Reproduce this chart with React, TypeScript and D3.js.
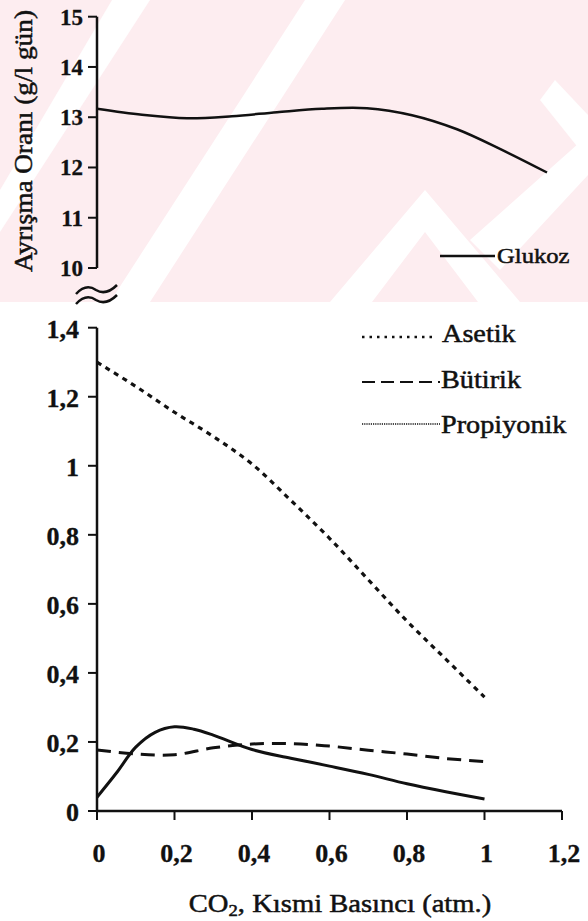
import React from 'react';
import * as d3 from 'd3';

// CO2 partial pressure (atm) for each series
const pressure = [0, 0.1, 0.2, 0.3, 0.4, 0.5, 0.6, 0.7, 0.8, 0.9, 1.0];
const glukoz = [13.17, 13.05, 12.98, 13.02, 13.1, 13.17, 13.18, 13.04, 12.76, 12.35, 11.9];
const asetik = [1.3, 1.23, 1.155, 1.085, 1.005, 0.9, 0.79, 0.67, 0.55, 0.44, 0.33];
const butirik = [0.177, 0.165, 0.163, 0.183, 0.194, 0.195, 0.188, 0.176, 0.165, 0.152, 0.143];
const propPressure = [0, 0.05, 0.1, 0.15, 0.2, 0.25, 0.3, 0.4, 0.5, 0.6, 0.7, 0.8, 0.9, 1.0];
const propiyonik = [0.04, 0.11, 0.185, 0.228, 0.244, 0.237, 0.22, 0.178, 0.153, 0.13, 0.106, 0.079, 0.056, 0.035];

const topTicks = [10, 11, 12, 13, 14, 15];
const bottomTicks = [0, 0.2, 0.4, 0.6, 0.8, 1, 1.2, 1.4];
const xTicks = [0, 0.2, 0.4, 0.6, 0.8, 1, 1.2];

const legendTop = ['Glukoz'];
const legendBottom = ['Asetik', 'Bütirik', 'Propiyonik'];

const FONT = '"Liberation Serif", "Times New Roman", serif';
const fmt = (d: number) => String(+d.toFixed(1)).replace('.', ',');

// scanned text looks heavier, so give it a thin outline
const Txt = ({ x, y, size, sx = 1, anchor = 'start', weight = 'normal', rotate = 0, children }: any) => (
  <text
    transform={`translate(${x},${y}) rotate(${rotate}) scale(${sx},1)`}
    fontFamily={FONT}
    fontSize={size}
    fontWeight={weight}
    textAnchor={anchor}
    fill="#111"
    stroke="#111"
    strokeWidth={weight === 'bold' ? 0.3 : 0.5}
  >
    {children}
  </text>
);

const App = () => {
  const W = 588;
  const H = 921;
  const axisX = 97;

  // top panel (Glukoz)
  const xTop = d3.scaleLinear().domain([0, 1]).range([axisX, 547]);
  const yTop = d3.scaleLinear().domain([10, 15]).range([268, 16.7]);

  // bottom panel (acids)
  const x = d3.scaleLinear().domain([0, 1.2]).range([axisX, 562]);
  const y = d3.scaleLinear().domain([0, 1.4]).range([811, 327.7]);

  const topLine = d3.line<number>()
    .x((_, i) => xTop(pressure[i]))
    .y(d => yTop(d))
    .curve(d3.curveCatmullRom);

  const line = d3.line<number>()
    .x((_, i) => x(pressure[i]))
    .y(d => y(d))
    .curve(d3.curveCatmullRom);

  const propLine = d3.line<number>()
    .x((_, i) => x(propPressure[i]))
    .y(d => y(d))
    .curve(d3.curveCatmullRom);

  const wave = (yy: number) =>
    `M76,${yy + 4} Q86,${yy - 7} 96,${yy} Q106,${yy + 6} 117,${yy - 5}`;

  return (
    <svg width={W} height={H} style={{ position: 'absolute', left: 0, top: 0, background: '#fff' }}>
      {/* faint watermark behind the upper panel */}
      <rect x={0} y={0} width={W} height={302} fill="#fdedf0" />
      <g fill="#fff">
        <polygon points="0,190 0,232 150,0 112,0" />
        <polygon points="110,302 150,302 345,0 305,0" />
        <polygon points="330,302 372,302 425,232 478,302 520,302 425,190" />
        <polygon points="470,240 500,270 588,175 588,135" />
        <polygon points="540,100 588,160 588,115 555,80" />
      </g>

      {/* top axis */}
      <line x1={axisX} x2={axisX} y1={yTop(15)} y2={yTop(10)} stroke="#111" strokeWidth={2.5} />
      {topTicks.map(t => (
        <g key={t}>
          <line x1={axisX - 9} x2={axisX} y1={yTop(t)} y2={yTop(t)} stroke="#111" strokeWidth={2} />
          <Txt x={83} y={yTop(t) + 8} size={23} anchor="end" weight="bold">{t}</Txt>
        </g>
      ))}
      <path d={topLine(glukoz) || ''} fill="none" stroke="#111" strokeWidth={2.5} />

      {/* axis break */}
      <path d={wave(290)} fill="none" stroke="#111" strokeWidth={2.5} />
      <path d={wave(300)} fill="none" stroke="#111" strokeWidth={2.5} />

      {/* bottom axes */}
      <line x1={axisX} x2={axisX} y1={y(1.4)} y2={y(0)} stroke="#111" strokeWidth={2.5} />
      {bottomTicks.map(t => (
        <g key={t}>
          <line x1={axisX - 9} x2={axisX} y1={y(t)} y2={y(t)} stroke="#111" strokeWidth={2} />
          <Txt x={79} y={y(t) + 10} size={26} anchor="end" weight="bold">{fmt(t)}</Txt>
        </g>
      ))}
      <line x1={axisX} x2={x(1.2)} y1={y(0)} y2={y(0)} stroke="#111" strokeWidth={2.5} />
      {xTicks.map(t => (
        <g key={t}>
          <line x1={x(t)} x2={x(t)} y1={y(0)} y2={y(0) + 9} stroke="#111" strokeWidth={2} />
          <Txt x={x(t) + 2} y={862} size={26} anchor="middle" weight="bold">{fmt(t)}</Txt>
        </g>
      ))}

      {/* series */}
      <path d={line(asetik) || ''} fill="none" stroke="#111" strokeWidth={3.2} strokeDasharray="5 5" />
      <path d={line(butirik) || ''} fill="none" stroke="#111" strokeWidth={3} strokeDasharray="14 8" />
      <path d={propLine(propiyonik) || ''} fill="none" stroke="#111" strokeWidth={3} />

      {/* legends */}
      <line x1={440} x2={495} y1={256} y2={256} stroke="#111" strokeWidth={2.5} />
      <Txt x={497} y={263} size={22} sx={1.12}>{legendTop[0]}</Txt>

      <line x1={362} x2={433} y1={337} y2={337} stroke="#111" strokeWidth={2.5} strokeDasharray="2.5 5" />
      <Txt x={442} y={342} size={25} sx={1.13}>{legendBottom[0]}</Txt>
      <line x1={362} x2={440} y1={382} y2={382} stroke="#111" strokeWidth={2.2} strokeDasharray="13 6" />
      <Txt x={441} y={388} size={25} sx={1.13}>{legendBottom[1]}</Txt>
      <line x1={362} x2={440} y1={424} y2={424} stroke="#111" strokeWidth={1.6} strokeDasharray="1.2 1" />
      <Txt x={441} y={433} size={25} sx={1.13}>{legendBottom[2]}</Txt>

      {/* axis titles */}
      <Txt x={32} y={141} size={26} anchor="middle" rotate={-90} sx={1.05}>
        Ayrışma Oranı (g/l gün)
      </Txt>
      <Txt x={340} y={912} size={26} anchor="middle" sx={1.1}>
        CO<tspan fontSize={17} dy={4}>2</tspan>
        <tspan dy={-4}>, Kısmi Basıncı (atm.)</tspan>
      </Txt>
    </svg>
  );
};

export default App;
